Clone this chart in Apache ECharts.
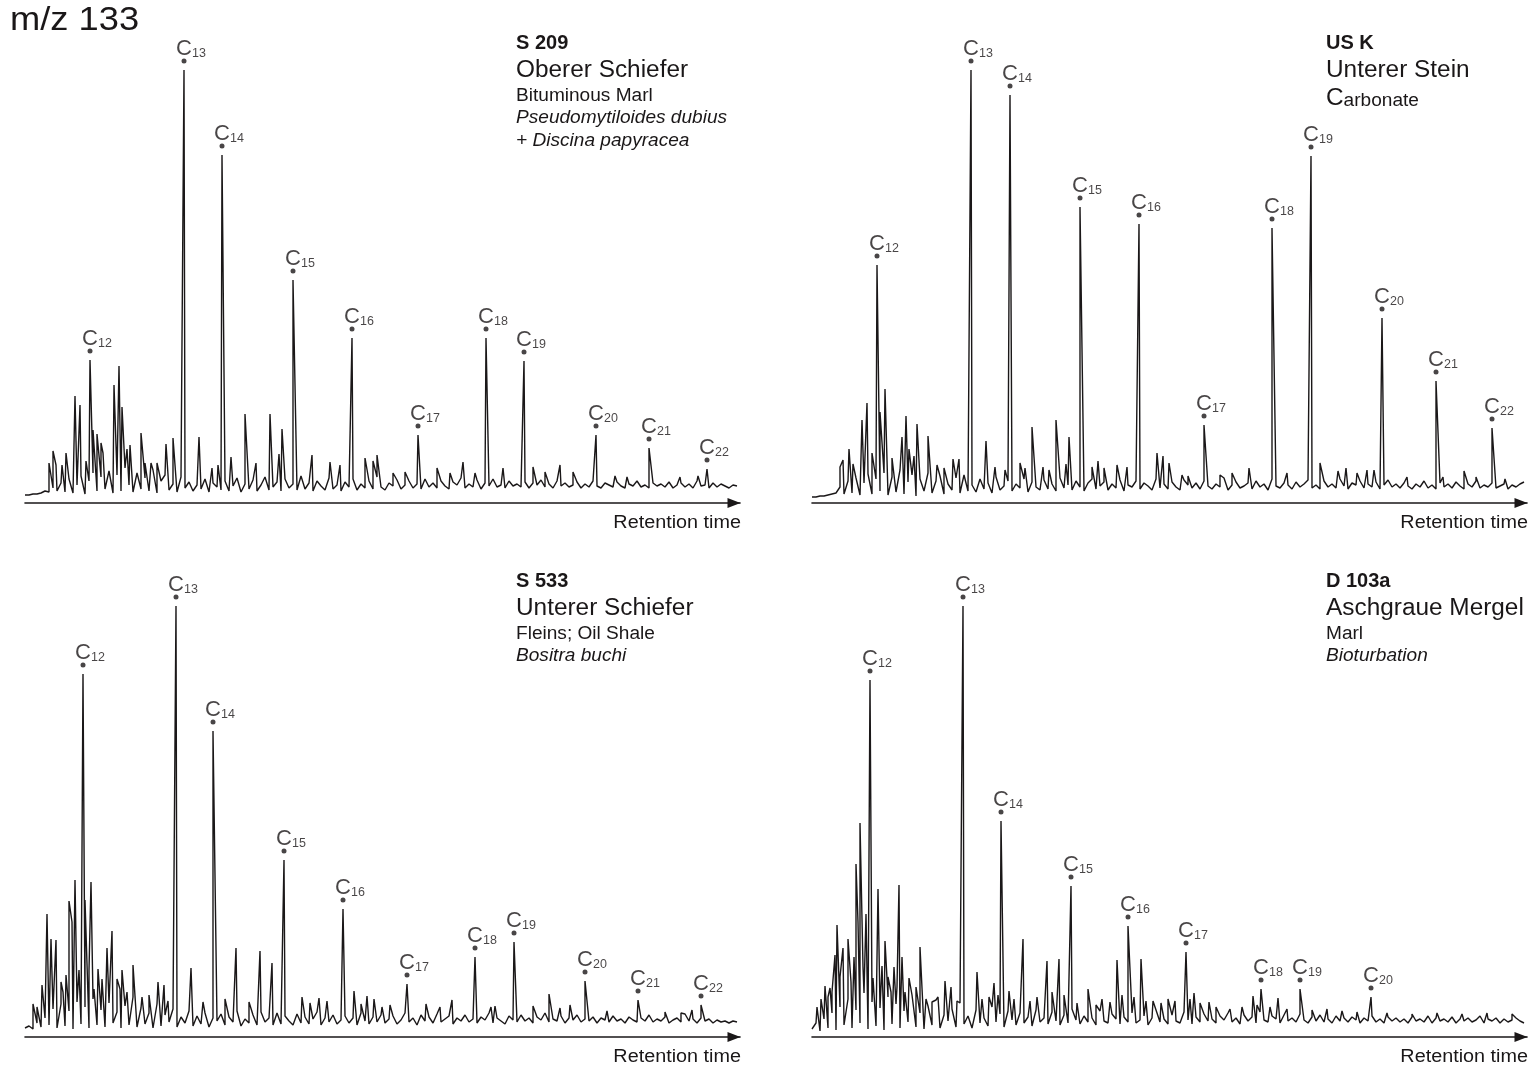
<!DOCTYPE html>
<html><head><meta charset="utf-8">
<script src="https://cdn.jsdelivr.net/npm/echarts@6/dist/echarts.min.js"></script>
<style>html,body{margin:0;padding:0;background:#fff}#c{width:1537px;height:1069px}</style>
</head><body><div id="c"></div>
<script>
// ---------- DATA (x = retention position, h = signal height) ----------
const NOISE_STEP = 4;
const names1 = ['12','13','14','15','16','17','18','19','20','21','22'];
const peaks1X = [65,159,197,268,327,393,461,499,571,624,682];
const peaks1H = [143,433,348,223,165,68,165,142,68,55,34];
const minor1X = [24,28,31,37,41,50,55,61,68,72,76,78,89,94,97,102,105,116,120,126,132,141,148,174,187,193,206,220,231,245,254,257,287,305,315,340,348,352,368,380,412,425,438,450,478,508,520,535,548,590,602,655,673];
const minor1H = [40,52,38,38,50,107,98,42,73,69,60,50,118,137,96,54,58,70,40,40,40,59,65,66,35,38,46,89,40,89,49,74,48,41,38,45,42,48,30,31,35,30,41,30,35,36,31,38,31,27,26,26,27];
const noise1 = [8,8,9,9,10,12,11,15,12,20, 11,24,10,18,27,9,22,30,12,26, 14,32,10,28,12,35,18,11,30,14, 25,12,33,10,22,28,13,19,11,26,
 15,21,12,18,14,24,11,20,16,13, 22,12,17,25,11,19,14,23,12,18, 26,13,16,21,12,24,15,19,13,27, 14,20,12,22,17,13,25,14,18,12,
 21,16,24,13,19,15,22,14,26,16, 13,20,17,23,14,18,22,15,19,14, 24,16,20,15,22,17,14,21,18,25, 15,19,16,23,14,20,17,24,16,18,
 15,22,17,19,16,21,15,20,18,23, 16,19,15,22,17,20,16,18,21,15, 19,16,22,17,15,20,18,16,21,17, 15,19,17,22,16,18,15,20,17,19,
 16,21,15,18,20,16,19,15,22,17, 18,15,20,16,19,17,15,18,17];

const names2 = ['12','13','14','15','16','17','18','19','20','21','22'];
const peaks2X = [65,159,198,268,327,392,460,499,570,624,680];
const peaks2H = [238,433,408,296,279,78,275,347,185,122,75];
const minor2X = [28,31,37,41,50,55,60,68,73,80,90,94,97,102,105,116,125,132,141,147,174,183,193,208,213,220,231,237,244,254,257,280,286,292,305,315,345,351,357,370,376,408,420,437,475,508,526,534,545,555,562,595,631,652,664,693];
const minor2H = [36,43,54,39,83,100,50,91,114,45,66,87,54,47,79,67,38,35,44,44,62,36,33,40,35,76,36,33,83,39,66,36,42,35,38,36,50,47,40,28,27,28,30,35,30,40,32,35,30,33,33,26,26,32,26,24];
const noise2 = [6,6,7,7,8,9,10,16,9,22, 10,25,8,20,29,9,24,12,30,8, 26,11,33,9,21,28,7,24,12,30, 10,22,27,9,19,13,25,10,28,12,
 18,11,24,14,20,10,26,13,17,22, 12,19,15,24,11,21,16,13,23,14, 19,12,25,15,18,13,22,16,12,20, 24,14,17,21,13,19,15,23,12,18,
 16,22,14,20,17,13,24,15,19,14, 21,16,13,23,18,15,20,14,22,17, 14,19,16,25,13,18,21,15,17,20, 14,22,16,19,13,24,17,15,20,18,
 14,21,16,19,23,15,18,14,22,16, 19,15,24,17,14,20,18,22,15,19, 16,21,14,18,23,16,19,15,20,17, 14,19,16,22,15,18,14,20,16,19,
 15,21,17,14,19,16,22,15,18,16, 20,15,17,19,14,18,16,19,21];

const names3 = ['12','13','14','15','16','17','18','19','20','21','22'];
const peaks3X = [58,151,188,259,318,382,450,489,560,613,676];
const peaks3H = [363,431,306,177,128,53,80,95,56,37,32];
const minor3X = [8,12,17,22,26,31,36,38,41,44,47,50,54,60,64,66,69,73,77,82,87,92,95,97,102,108,117,124,133,139,143,166,178,200,211,224,235,247,277,285,294,302,329,336,342,349,357,365,401,415,427,466,470,508,524,535,545,582,640,656,667];
const minor3H = [33,30,52,123,98,97,55,45,62,136,115,157,67,137,67,155,48,68,58,89,106,58,48,67,45,72,40,42,55,52,36,69,35,38,89,35,86,74,40,34,39,36,46,33,41,38,30,32,33,30,37,30,31,31,43,29,32,26,25,24,27];
const noise3 = [9,11,8,14,10,19,12,28,9,33, 11,26,8,35,13,30,9,38,12,27, 10,34,14,25,9,31,12,40,10,29, 13,24,9,33,11,22,15,28,10,20,
 14,26,11,21,13,24,10,19,16,23, 12,20,15,26,11,18,14,22,12,25, 15,19,12,24,13,21,16,12,23,14, 20,13,18,25,12,19,15,22,13,17,
 21,14,19,12,24,16,13,20,15,22, 14,18,21,13,17,24,15,19,12,22, 16,20,14,23,15,18,21,13,19,16, 22,15,18,14,20,17,24,14,19,16,
 13,21,17,15,22,16,19,14,20,17, 24,15,18,16,21,14,19,17,22,15, 18,16,20,14,19,17,15,21,16,18, 14,20,17,15,19,16,22,15,18,16,
 20,14,17,19,15,23,16,18,14,19, 16,18,14,17,15,16,14,16,15];

const names4 = ['12','13','14','15','16','17','18','19','20'];
const peaks4X = [58,151,189,259,316,374,449,488,559];
const peaks4H = [357,431,216,151,111,85,48,48,40];
const minor4X = [5,9,13,16,18,20,23,25,28,31,36,39,42,44,46,48,51,54,61,63,66,70,73,76,79,82,85,87,90,93,97,101,104,108,114,120,126,133,139,145,165,170,177,182,186,197,202,211,218,225,235,240,247,252,265,276,284,290,298,305,310,322,329,334,341,349,356,363,378,382,388,397,404,418,430,441,445,458,466,475,500,515,530,545,575,600,625,650,675,700];
const minor4H = [30,38,51,40,49,45,82,112,60,89,98,55,80,173,115,214,70,123,59,60,148,71,96,60,45,70,50,152,80,45,59,40,50,90,38,35,40,56,50,36,65,38,40,54,42,46,38,98,36,40,76,45,78,42,34,48,32,38,35,77,42,40,78,36,36,34,38,36,38,44,34,35,30,28,30,41,32,30,39,28,27,28,26,25,24,23,24,23,24,23];
const noise4 = [8,14,6,18,9,24,7,30,12,38, 9,27,14,44,8,35,11,29,7,40, 13,33,9,26,15,42,10,24,8,31, 12,37,9,22,16,28,10,34,13,21,
 9,27,14,19,11,30,15,23,10,26, 17,12,24,14,20,11,27,15,19,13, 25,16,12,22,14,28,17,13,21,15, 19,12,26,16,14,23,18,13,20,15,
 24,14,17,21,12,19,27,15,18,13, 22,16,14,25,17,13,20,15,23,16, 18,14,21,17,24,15,19,13,22,16, 20,14,25,17,15,21,18,14,22,16,
 19,15,23,17,14,20,16,22,15,18, 14,21,16,19,15,20,17,14,19,16, 21,15,18,14,20,16,19,15,18,14, 20,16,18,15,21,14,19,16,18,15,
 20,14,18,16,19,15,17,21,14,18, 16,19,14,18,15,17,19,16,14];

const titles1 = ['S 209','Oberer Schiefer','Bituminous Marl','Pseudomytiloides dubius','+ Discina papyracea'];
const titles2 = ['US K','Unterer Stein','Carbonate'];
const titles3 = ['S 533','Unterer Schiefer','Fleins; Oil Shale','Bositra buchi'];
const titles4 = ['D 103a','Aschgraue Mergel','Marl','Bioturbation'];
const axisName = 'Retention time';
const mainTitle = 'm/z 133';

// ---------- BUILD ----------
const INK = '#1a1718';
const FONT = '"Liberation Sans", Arial, Helvetica, sans-serif';

function trace(noise, px, ph, mx, mh) {
  const pts = noise.map((v, i) => [i * NOISE_STEP, v]);
  mx.forEach((x, k) => pts.push([x, mh[k]]));
  px.forEach((x, k) => pts.push([x, ph[k]]));
  pts.sort((a, b) => a[0] - b[0]);
  return pts;
}

const panels = [
  {noise: noise1, px: peaks1X, ph: peaks1H, names: names1, mx: minor1X, mh: minor1H, left: 25, top: 43},
  {noise: noise2, px: peaks2X, ph: peaks2H, names: names2, mx: minor2X, mh: minor2H, left: 812, top: 43},
  {noise: noise3, px: peaks3X, ph: peaks3H, names: names3, mx: minor3X, mh: minor3H, left: 25, top: 577},
  {noise: noise4, px: peaks4X, ph: peaks4H, names: names4, mx: minor4X, mh: minor4H, left: 812, top: 577}
];

const grid = [], xAxis = [], yAxis = [], series = [];
panels.forEach((p, k) => {
  grid.push({left: p.left, top: p.top, width: 715, height: 460});
  xAxis.push({gridIndex: k, type: 'value', min: 0, max: 715,
    axisLine: {show: true, symbol: ['none', 'triangle'], symbolSize: [10, 13], symbolOffset: [0, -6],
      lineStyle: {color: INK, width: 1.6}},
    axisTick: {show: false}, axisLabel: {show: false}, splitLine: {show: false}});
  yAxis.push({gridIndex: k, type: 'value', min: 0, max: 460, show: false});
  series.push({type: 'line', xAxisIndex: k, yAxisIndex: k, data: trace(p.noise, p.px, p.ph, p.mx, p.mh),
    showSymbol: false, symbol: 'none', clip: false, silent: true, animation: false,
    lineStyle: {color: INK, width: 1.4}});
  series.push({type: 'scatter', xAxisIndex: k, yAxisIndex: k, z: 5, silent: true, animation: false,
    data: p.px.map((x, i) => ({name: p.names[i], value: [x, p.ph[i]]})),
    symbol: 'circle', symbolSize: 5, symbolOffset: [0, -9], itemStyle: {color: INK},
    label: {show: true, position: 'top', distance: 0, offset: [7, 2],
      formatter: q => '{c|C}{s|' + q.name + '}',
      rich: {
        c: {fontSize: 22, lineHeight: 23, fontFamily: FONT, color: INK},
        s: {fontSize: 12.5, lineHeight: 12, fontFamily: FONT, color: INK, verticalAlign: 'bottom'}
      }}});
});

function txt(text, x, y, size, opts) {
  opts = opts || {};
  return {type: 'text', x: x, y: y, scaleX: opts.scale || 1, silent: true,
    style: {text: text, fontSize: size, fontFamily: FONT, fontWeight: opts.weight || 'normal',
      fontStyle: opts.style || 'normal', fill: INK,
      align: opts.align || 'left', verticalAlign: 'middle',
      textAlign: opts.align || 'left', textVerticalAlign: 'middle'}};
}
const SC = 1.06;
const offs = [0, 28, 53, 75, 98];
function titleBlock(lines, x, y0, styles) {
  return lines.map((t, i) => {
    const s = styles[i];
    return txt(t, x, y0 + offs[i], s.size, {weight: s.weight, style: s.style, scale: s.weight === 'bold' ? 1 : SC});
  });
}
const B = {size: 20, weight: 'bold'}, L = {size: 23}, R = {size: 18}, I = {size: 18, style: 'italic'};
const graphic = [].concat(
  [txt(mainTitle, 10, 21, 33, {scale: 1.1})],
  titleBlock(titles1, 516, 43, [B, L, R, I, I]),
  titleBlock(titles2.slice(0, 2), 1326, 43, [B, L]),
  [{type: 'text', x: 1326, y: 99, scaleX: SC, silent: true,
    style: {text: '{a|' + titles2[2].charAt(0) + '}{b|' + titles2[2].slice(1) + '}', fill: INK,
      align: 'left', verticalAlign: 'middle', textAlign: 'left', textVerticalAlign: 'middle',
      rich: {a: {fontSize: 23, lineHeight: 23, fontFamily: FONT, fill: INK, color: INK, verticalAlign: 'bottom'},
             b: {fontSize: 18, lineHeight: 18, fontFamily: FONT, fill: INK, color: INK, verticalAlign: 'bottom'}}}}],
  titleBlock(titles3, 516, 581, [B, L, R, I]),
  titleBlock(titles4, 1326, 581, [B, L, R, I]),
  [txt(axisName, 741, 523, 18, {align: 'right', scale: 1.1}),
   txt(axisName, 1528, 523, 18, {align: 'right', scale: 1.1}),
   txt(axisName, 741, 1057, 18, {align: 'right', scale: 1.1}),
   txt(axisName, 1528, 1057, 18, {align: 'right', scale: 1.1})]
);

const chart = echarts.init(document.getElementById('c'), null, {renderer: 'canvas'});
chart.setOption({backgroundColor: '#ffffff', animation: false, grid, xAxis, yAxis, series, graphic});
</script></body></html>
